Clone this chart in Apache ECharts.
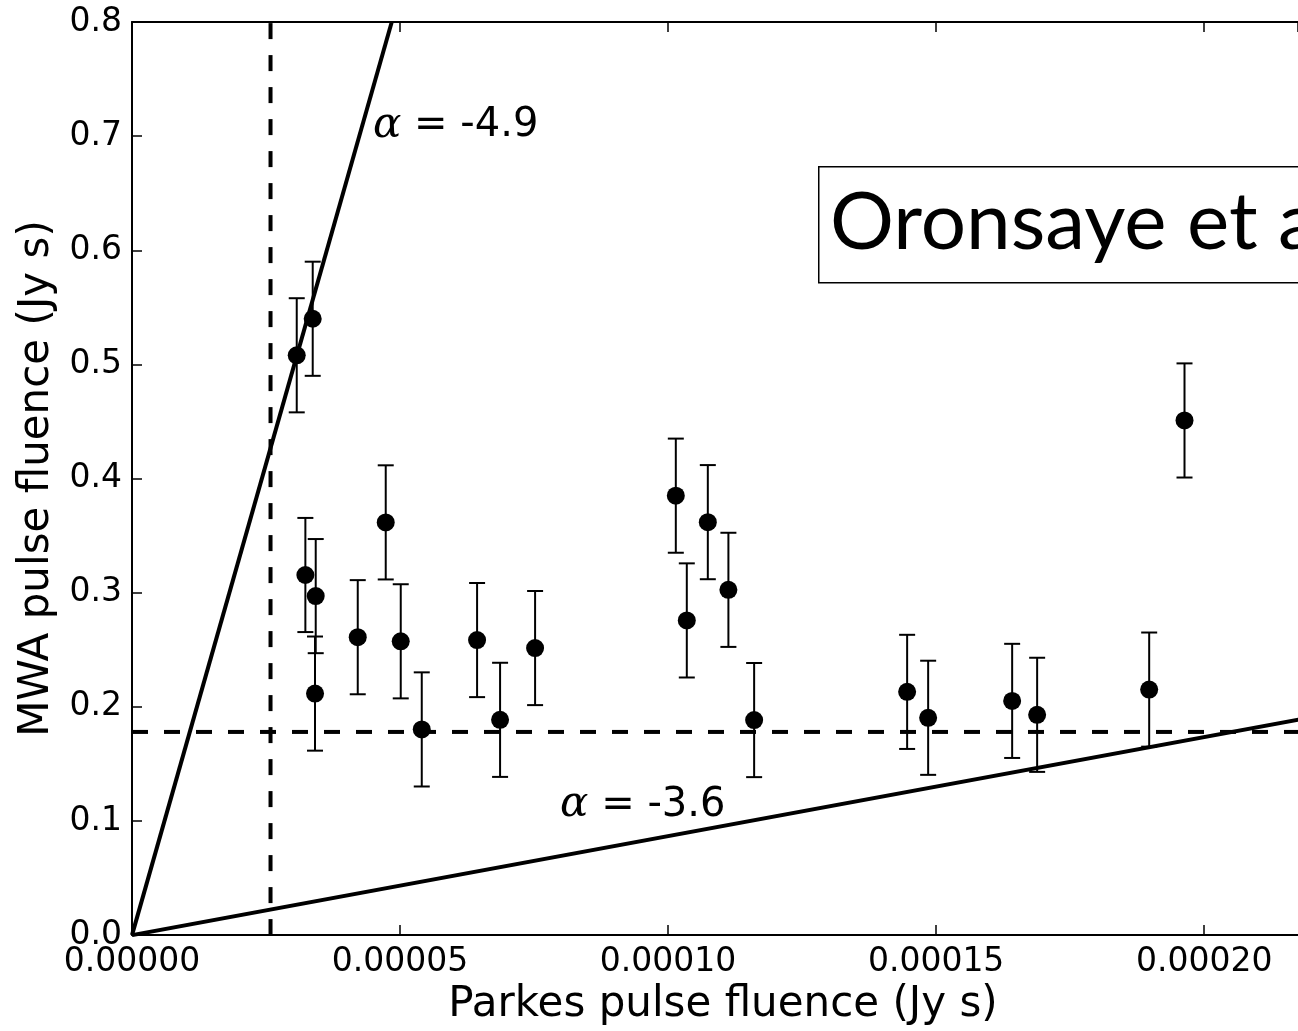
<!DOCTYPE html>
<html>
<head>
<meta charset="utf-8">
<script src="https://cdn.jsdelivr.net/npm/echarts@6/dist/echarts.min.js"></script>
<style>
  html, body { margin: 0; padding: 0; background: #fff; }
  #chart { width: 1298px; height: 1031px; }
</style>
</head>
<body>
<div id="chart"></div>
<script>
// Parkes (x) vs MWA (y) pulse fluences, Jy s
const parkesFluence = [
  3.073e-5, 3.371e-5, 3.234e-5, 3.427e-5, 3.414e-5, 4.211e-5, 4.733e-5, 5.013e-5,
  5.405e-5, 6.437e-5, 6.866e-5, 7.519e-5, 1.0144e-4, 1.0349e-4, 1.0741e-4, 1.1125e-4,
  1.1605e-4, 1.4459e-4, 1.4851e-4, 1.6418e-4, 1.6884e-4, 1.8974e-4, 1.9633e-4
];
const mwaFluence = [
  0.508, 0.540, 0.3155, 0.297, 0.2116, 0.261, 0.3616, 0.2574,
  0.1802, 0.2585, 0.1886, 0.2515, 0.385, 0.2757, 0.3618, 0.3025,
  0.1884, 0.2131, 0.1904, 0.2052, 0.193, 0.2151, 0.4509
];
const mwaError = [
  0.05, 0.05, 0.05, 0.05, 0.05, 0.05, 0.05, 0.05,
  0.05, 0.05, 0.05, 0.05, 0.05, 0.05, 0.05, 0.05,
  0.05, 0.05, 0.05, 0.05, 0.05, 0.05, 0.05
];

// Spectral-index reference lines through the origin
const steepLine = [[0, 0], [4.845e-5, 0.8]];     // alpha = -4.9
const shallowLine = [[0, 0], [2.2e-4, 0.1908]];  // alpha = -3.6

// Detection limits (dashed)
const parkesLimit = 2.584e-5;
const mwaLimit = 0.178;

// Line annotations: [x, y, text]
const annotations = [
  [4.496e-5, 0.709, '-4.9'],
  [7.985e-5, 0.1135, '-3.6']
];

const xTicks = [0, 0.00005, 0.0001, 0.00015, 0.0002];
const yTicks = [0, 0.1, 0.2, 0.3, 0.4, 0.5, 0.6, 0.7, 0.8];

// visible part of the Parkes axis
const X_MIN = 0, X_MAX = 0.0002175, Y_MIN = 0, Y_MAX = 0.8;

const points = parkesFluence.map((x, i) => [x, mwaFluence[i]]);
const errBars = parkesFluence.map((x, i) => [x, mwaFluence[i] - mwaError[i], mwaFluence[i] + mwaError[i]]);

const FONT = 'DejaVu Sans';
const axisLine = { show: true, onZero: false, lineStyle: { color: '#000', width: 2 } };
const tick = { show: true, inside: true, length: 10, lineStyle: { color: '#000', width: 1.5 } };

const isTick = (v, list) => list.some(t => Math.abs(t - v) < 1e-12);

const chart = echarts.init(document.getElementById('chart'), null, { renderer: 'canvas' });
chart.setOption({
  animation: false,
  backgroundColor: '#fff',
  grid: { left: 132, top: 22, right: 0, bottom: 93, containLabel: false },
  xAxis: [{
    type: 'value', min: X_MIN, max: X_MAX, interval: 0.00005,
    name: 'Parkes pulse fluence (Jy s)', nameLocation: 'middle', nameGap: 44,
    nameTextStyle: { fontFamily: FONT, fontSize: 42, color: '#000', padding: [0, 0, 0, 16] },
    axisLine, axisTick: tick, splitLine: { show: false },
    axisLabel: {
      margin: 11, fontFamily: FONT, fontSize: 33, color: '#000', showMaxLabel: false,
      formatter: v => isTick(v, xTicks) ? v.toFixed(5) : ''
    }
  }, {
    type: 'value', position: 'top', min: X_MIN, max: X_MAX, interval: 0.00005,
    axisLine, axisTick: tick, axisLabel: { show: false }, splitLine: { show: false }
  }],
  yAxis: [{
    type: 'value', min: Y_MIN, max: Y_MAX, interval: 0.1,
    name: 'MWA pulse fluence (Jy s)', nameLocation: 'middle', nameGap: 74,
    nameTextStyle: { fontFamily: FONT, fontSize: 42, color: '#000' },
    axisLine, axisTick: tick, splitLine: { show: false },
    axisLabel: {
      margin: 10, fontFamily: FONT, fontSize: 33, color: '#000',
      formatter: v => isTick(v, yTicks) ? v.toFixed(1) : ''
    }
  }],
  series: [
    {
      type: 'line', data: steepLine, symbol: 'none', silent: true, clip: true,
      lineStyle: { color: '#000', width: 4 }, z: 2
    },
    {
      type: 'line', data: shallowLine, symbol: 'none', silent: true, clip: true,
      lineStyle: { color: '#000', width: 4 }, z: 2
    },
    {
      type: 'line', data: [[parkesLimit, Y_MIN], [parkesLimit, Y_MAX]], symbol: 'none', clip: true,
      lineStyle: { color: '#000', width: 4, type: [16, 16] }, z: 2
    },
    {
      type: 'line', data: [[X_MIN, mwaLimit], [X_MAX, mwaLimit]], symbol: 'none', clip: true,
      lineStyle: { color: '#000', width: 4, type: [16, 16] }, z: 2
    },
    {
      type: 'custom', data: errBars, z: 3, clip: true,
      renderItem: (params, api) => {
        const lo = api.coord([api.value(0), api.value(1)]);
        const hi = api.coord([api.value(0), api.value(2)]);
        const hw = 8;
        const st = { stroke: '#000', lineWidth: 2 };
        return {
          type: 'group', children: [
            { type: 'line', shape: { x1: lo[0], y1: lo[1], x2: hi[0], y2: hi[1] }, style: st },
            { type: 'line', shape: { x1: lo[0] - hw, y1: lo[1], x2: lo[0] + hw, y2: lo[1] }, style: st },
            { type: 'line', shape: { x1: hi[0] - hw, y1: hi[1], x2: hi[0] + hw, y2: hi[1] }, style: st }
          ]
        };
      }
    },
    {
      type: 'scatter', data: points, symbol: 'circle', symbolSize: 18, z: 4,
      itemStyle: { color: '#000', opacity: 1 }
    },
    {
      type: 'scatter', data: annotations, symbolSize: 0, z: 5, silent: true,
      itemStyle: { opacity: 1 },
      label: {
        show: true, position: 'right', distance: 0,
        formatter: p => '{a|α} = ' + p.data[2],
        fontFamily: FONT, fontSize: 40, color: '#000',
        rich: { a: { fontFamily: 'DejaVu Serif', fontStyle: 'italic', fontSize: 42, color: '#000' } }
      }
    }
  ],
  graphic: [
    {
      type: 'rect', left: 818, top: 166, z: 10,
      shape: { width: 600, height: 116 },
      style: { fill: '#fff', stroke: '#000', lineWidth: 1.5 }
    },
    {
      type: 'text', left: 830, top: 183, z: 11,
      style: { text: 'Oronsaye et al.', font: '80px Lato', fill: '#000' }
    }
  ]
});
</script>
</body>
</html>
